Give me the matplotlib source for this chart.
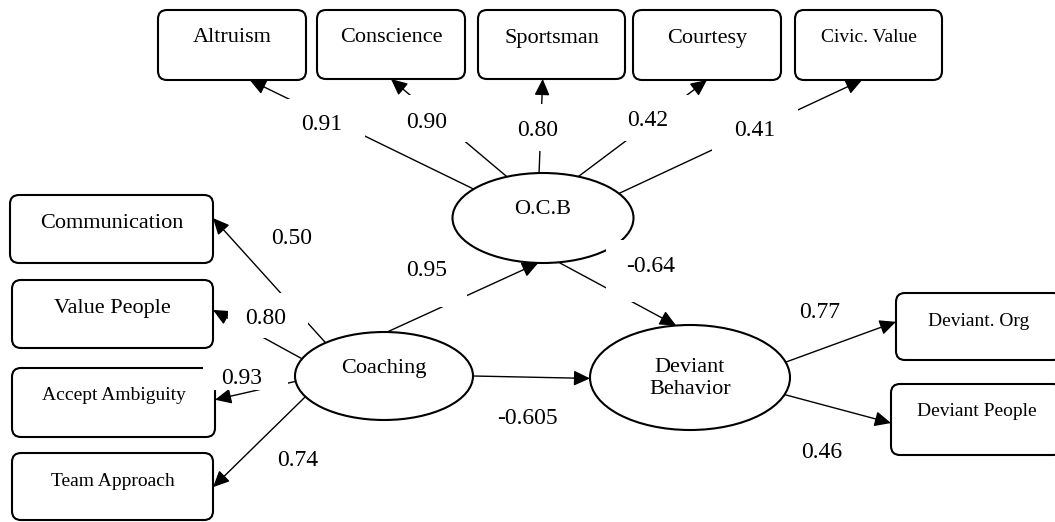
import matplotlib
matplotlib.use("Agg")
import matplotlib.pyplot as plt
import numpy as np
from matplotlib.patches import Ellipse, FancyBboxPatch, FancyArrowPatch, Rectangle

plt.rcParams['font.family'] = ['Liberation Serif', 'DejaVu Serif']

# ---- model content ----
ocb_items = ["Altruism", "Conscience", "Sportsman", "Courtesy", "Civic. Value"]
ocb_loadings = ["0.91", "0.90", "0.80", "0.42", "0.41"]

coach_items = ["Communication", "Value People", "Accept Ambiguity", "Team Approach"]
coach_loadings = ["0.50", "0.80", "0.93", "0.74"]

dev_items = ["Deviant. Org", "Deviant People"]
dev_loadings = ["0.77", "0.46"]

path_from = ["Coaching", "O.C.B", "Coaching"]
path_to = ["O.C.B", "Deviant Behavior", "Deviant Behavior"]
path_coef = ["0.95", "-0.64", "-0.605"]

# ---- layout (pixels, y downwards) ----
latent = {  # cx, cy, width, height
    "O.C.B": (543, 218, 181, 90),
    "Coaching": (384, 376, 178, 88),
    "Deviant Behavior": (690, 377.5, 200, 105),
}
latent_text = {"O.C.B": "O.C.B", "Coaching": "Coaching",
               "Deviant Behavior": "Deviant\nBehavior"}

boxes = {  # x0, y0, x1, y1, fontsize
    "Altruism": (158, 10, 306, 80, 16),
    "Conscience": (317, 10, 465, 79, 16),
    "Sportsman": (478, 10, 625, 79, 16),
    "Courtesy": (633, 10, 781, 80, 16),
    "Civic. Value": (795, 10, 942, 80, 14),
    "Communication": (10, 195, 213, 263, 16),
    "Value People": (12, 280, 213, 348, 16),
    "Accept Ambiguity": (12, 368, 215, 437, 14),
    "Team Approach": (12, 453, 213, 520, 14),
    "Deviant. Org": (896, 293, 1062, 360, 14),
    "Deviant People": (891, 384, 1062, 455, 14),
}

# start angle on the latent ellipse, side of box hit, fraction along that side
edge_layout = {
    "Altruism": (140, "bottom", 0.62),
    "Conscience": (113.5, "bottom", 0.50),
    "Sportsman": (92.5, "bottom", 0.44),
    "Courtesy": (67, "bottom", 0.50),
    "Civic. Value": (33, "bottom", 0.456),
    "Communication": (131, "right", 0.34),
    "Value People": (157, "right", 0.44),
    "Accept Ambiguity": (187, "right", 0.46),
    "Team Approach": (208, "right", 0.51),
    "Deviant. Org": (17, "left", 0.43),
    "Deviant People": (-19, "left", 0.55),
}
path_angles = [(88, -93), (-80, 98), (0, 181)]

# label position and the white text-box behind it (x0, y0, x1, y1)
label_pos = {
    "Altruism": ((322, 122), (279, 99, 365, 145)),
    "Conscience": ((427, 120), (384, 95, 470, 142)),
    "Sportsman": ((538, 128), (495, 104, 581, 151)),
    "Courtesy": ((648, 118), (605, 95, 691, 141)),
    "Civic. Value": ((755, 128), (712, 105, 798, 151)),
    "Communication": ((292, 237), (256, 214, 335, 259)),
    "Value People": ((266, 316), (228, 293, 308, 338)),
    "Accept Ambiguity": ((242, 376), (203, 354, 288, 390)),
    "Team Approach": ((298, 458), (261, 441, 341, 482)),
    "Deviant. Org": ((820, 310), (777, 287, 862, 333)),
    "Deviant People": ((822, 450), (779, 427, 865, 473)),
}
path_label_pos = [((427, 269), (384, 252, 467, 307)),
                  ((651, 265), (606, 240, 700, 302)),
                  ((527, 417), (484, 396, 570, 440))]


def ell_pt(name, deg):
    cx, cy, w, h = latent[name]
    t = np.radians(deg)
    return cx + w / 2 * np.cos(t), cy - h / 2 * np.sin(t)


def box_pt(name, side, frac):
    x0, y0, x1, y1, _ = boxes[name]
    if side == "bottom":
        return x0 + frac * (x1 - x0), y1
    if side == "right":
        return x1, y0 + frac * (y1 - y0)
    return x0, y0 + frac * (y1 - y0)


fig = plt.figure(figsize=(10.55, 5.22), dpi=100)
ax = fig.add_axes([0, 0, 1, 1])
ax.set_xlim(0, 1055)
ax.set_ylim(522, 0)
ax.axis("off")

arrow_kw = dict(arrowstyle="-|>,head_length=0.9,head_width=0.42", mutation_scale=11,
                lw=1.0, color="black", shrinkA=0, shrinkB=0, zorder=1)


def draw_label(text, pos, rect):
    x0, y0, x1, y1 = rect
    ax.add_patch(Rectangle((x0, y0), x1 - x0, y1 - y0, facecolor="white",
                           edgecolor="none", zorder=3))
    ax.text(pos[0], pos[1] + 2, text, fontsize=17, ha="center", va="center", zorder=4)


# measurement arrows
groups = [("O.C.B", ocb_items, ocb_loadings),
          ("Coaching", coach_items, coach_loadings),
          ("Deviant Behavior", dev_items, dev_loadings)]
for lat, items, loads in groups:
    for item, val in zip(items, loads):
        ang, side, frac = edge_layout[item]
        a = ell_pt(lat, ang)
        b = box_pt(item, side, frac)
        ax.add_patch(FancyArrowPatch(a, b, **arrow_kw))
        pos, rect = label_pos[item]
        draw_label(val, pos, rect)

# structural paths
for src, dst, coef, (a1, a2), (pos, rect) in zip(path_from, path_to, path_coef,
                                                  path_angles, path_label_pos):
    ax.add_patch(FancyArrowPatch(ell_pt(src, a1), ell_pt(dst, a2), **arrow_kw))
    draw_label(coef, pos, rect)

# latent ellipses
for name, (cx, cy, w, h) in latent.items():
    ax.add_patch(Ellipse((cx, cy), w, h, facecolor="white", edgecolor="black",
                         lw=1.5, zorder=2))
    ty = cy - 8 if name != "Deviant Behavior" else cy + 1
    ax.text(cx, ty, latent_text[name], fontsize=16, ha="center", va="center",
            linespacing=1.25, zorder=4)

# indicator boxes
for name, (x0, y0, x1, y1, fs) in boxes.items():
    ax.add_patch(FancyBboxPatch((x0, y0), x1 - x0, y1 - y0,
                                boxstyle="round,pad=0,rounding_size=9",
                                facecolor="white", edgecolor="black", lw=1.5, zorder=2))
    ax.text((x0 + x1) / 2, y0 + 28, name, fontsize=fs, ha="center", va="center", zorder=4)

fig.savefig("out.png", dpi=100)
